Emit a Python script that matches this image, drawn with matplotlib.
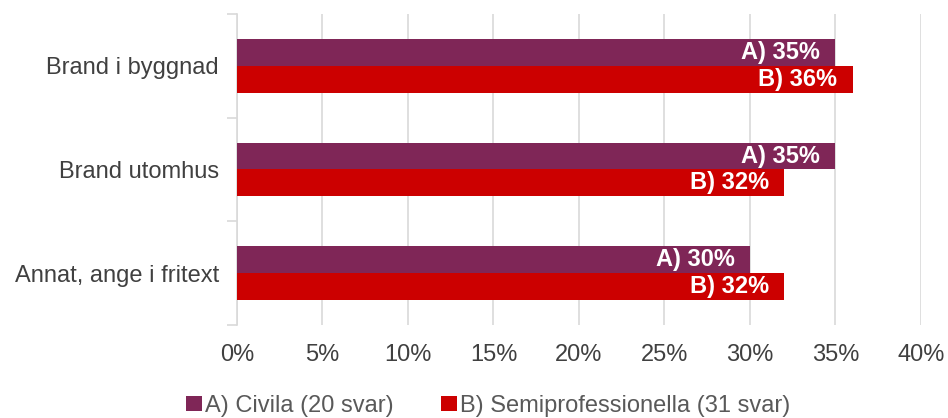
import numpy as np
import matplotlib.pyplot as plt

plt.rcParams['font.family'] = ['Liberation Sans', 'DejaVu Sans']

# data
categories = ["Brand i byggnad", "Brand utomhus", "Annat, ange i fritext"]
civila = [35, 35, 30]
semipro = [36, 32, 32]
series_names = ["A) Civila (20 svar)", "B) Semiprofessionella (31 svar)"]
prefixes = ["A)", "B)"]
colors = ["#7F2657", "#CC0000"]

fig = plt.figure(figsize=(9.48, 4.18), dpi=100)
ax = fig.add_axes([0.25, 0.2225, 0.7215, 0.744])

y = np.arange(len(categories))
h = 0.26
for vals, off, col, name, pre in zip([civila, semipro], [-h / 2, h / 2], colors, series_names, prefixes):
    bars = ax.barh(y + off, vals, height=h, color=col, label=name, zorder=3)
    for b, v in zip(bars, vals):
        ax.text(v - 0.9, b.get_y() + h / 2, f"{pre} {v}%", ha='right', va='center',
                color='white', fontsize=17, fontweight='bold', zorder=4)

ax.set_xlim(0, 40)
ax.set_ylim(len(categories) - 0.5, -0.5)
ax.set_xticks(np.arange(0, 41, 5))
ax.set_xticklabels([f"{t}%" for t in range(0, 41, 5)])
ax.set_yticks(y)
ax.set_yticklabels(categories)
ax.set_yticks(np.arange(-0.5, len(categories), 1), minor=True)
ax.tick_params(axis='y', which='major', length=0, pad=13, labelsize=17, labelcolor='#404040')
ax.tick_params(axis='y', which='minor', length=7, color='#D9D9D9', width=1.2)
ax.tick_params(axis='x', length=0, pad=14, labelsize=17, labelcolor='#404040')
ax.grid(axis='x', color='#D9D9D9', linewidth=1.2, zorder=0)
for s in ['top', 'right', 'bottom']:
    ax.spines[s].set_visible(False)
ax.spines['left'].set_color('#D9D9D9')
ax.spines['left'].set_linewidth(1.2)

fig.legend(loc='center', bbox_to_anchor=(0.515, 0.028), ncol=2, frameon=False,
           fontsize=17, labelcolor='#595959', handlelength=0.68, handleheight=0.6,
           handletextpad=0.12, columnspacing=2.0, borderpad=0)

fig.savefig("out.png", dpi=100)
